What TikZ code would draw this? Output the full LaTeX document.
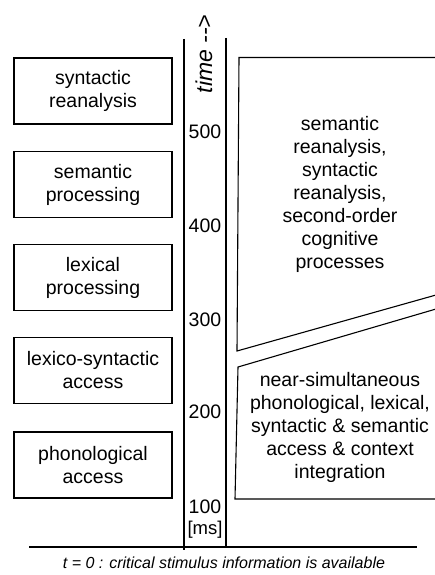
\documentclass[tikz,border=0pt]{standalone}
\usepackage{fontspec}
\setmainfont{Liberation Sans}
\begin{document}
\begin{tikzpicture}[x=1pt,y=-1pt,
  lbox/.style={draw, line width=1.1pt, minimum width=158pt, minimum height=66pt, inner sep=0pt, align=center, font=\fontsize{19.5}{23}\selectfont},
  ln/.style={line width=1.1pt},
  tick/.style={font=\fontsize{19.5}{23}\selectfont, inner sep=0pt},
  btext/.style={align=center, font=\fontsize{19.5}{23}\selectfont, inner sep=0pt}]
\useasboundingbox (0,0) rectangle (435,575);
% left boxes
\node[lbox] (b1) at (93,91) {syntactic\\reanalysis};
\node[lbox] (b2) at (93,184.5) {semantic\\processing};
\node[lbox] (b3) at (93,277.5) {lexical\\processing};
\node[lbox] (b4) at (93,370.5) {lexico-syntactic\\access};
\node[lbox] (b5) at (93,465) {phonological\\access};
% axis
\coordinate (lt) at (184,39);
\coordinate (lb) at (184,550);
\coordinate (rt) at (226,38);
\coordinate (rb) at (226,547);
\draw[ln] (lt) -- (lb);
\draw[ln] (rt) -- (rb);
\coordinate (hl) at (29,547);
\coordinate (hr) at (417,547);
\draw[ln] (hl) -- (hr);
\node[rotate=90, font=\fontsize{23}{26}\selectfont\itshape, inner sep=0pt] (time) at (204,54) {time -{}-{}>};
\node[tick] (t500) at (205,132) {500};
\node[tick] (t400) at (205,226) {400};
\node[tick] (t300) at (205,320) {300};
\node[tick] (t200) at (205,412) {200};
\node[tick] (t100) at (205,507) {100};
\node[tick, font=\fontsize{18.5}{22}\selectfont] (ms) at (205,530) {[ms]};
% right shapes
\coordinate (u1) at (436,57.5);
\coordinate (u2) at (239,57.5);
\coordinate (u3) at (237,351);
\coordinate (u4) at (436,295);
\draw[ln, line join=miter] (u1) -- (u2) -- (u3) -- (u4);
\coordinate (d1) at (436,309);
\coordinate (d2) at (238,367);
\coordinate (d3) at (235,499);
\coordinate (d4) at (436,499);
\draw[ln, line join=miter] (d1) -- (d2) -- (d3) -- (d4);
\node[btext] (up) at (340,194) {semantic\\reanalysis,\\syntactic\\reanalysis,\\second-order\\cognitive\\processes};
\node[btext] (lo) at (340,427) {near-simultaneous\\phonological, lexical,\\syntactic \& semantic\\access \& context\\integration};
\node[font=\fontsize{16}{19}\selectfont\itshape, inner sep=0pt] (cap) at (224,563) {t = 0 : critical stimulus information is available};
\end{tikzpicture}
\end{document}
